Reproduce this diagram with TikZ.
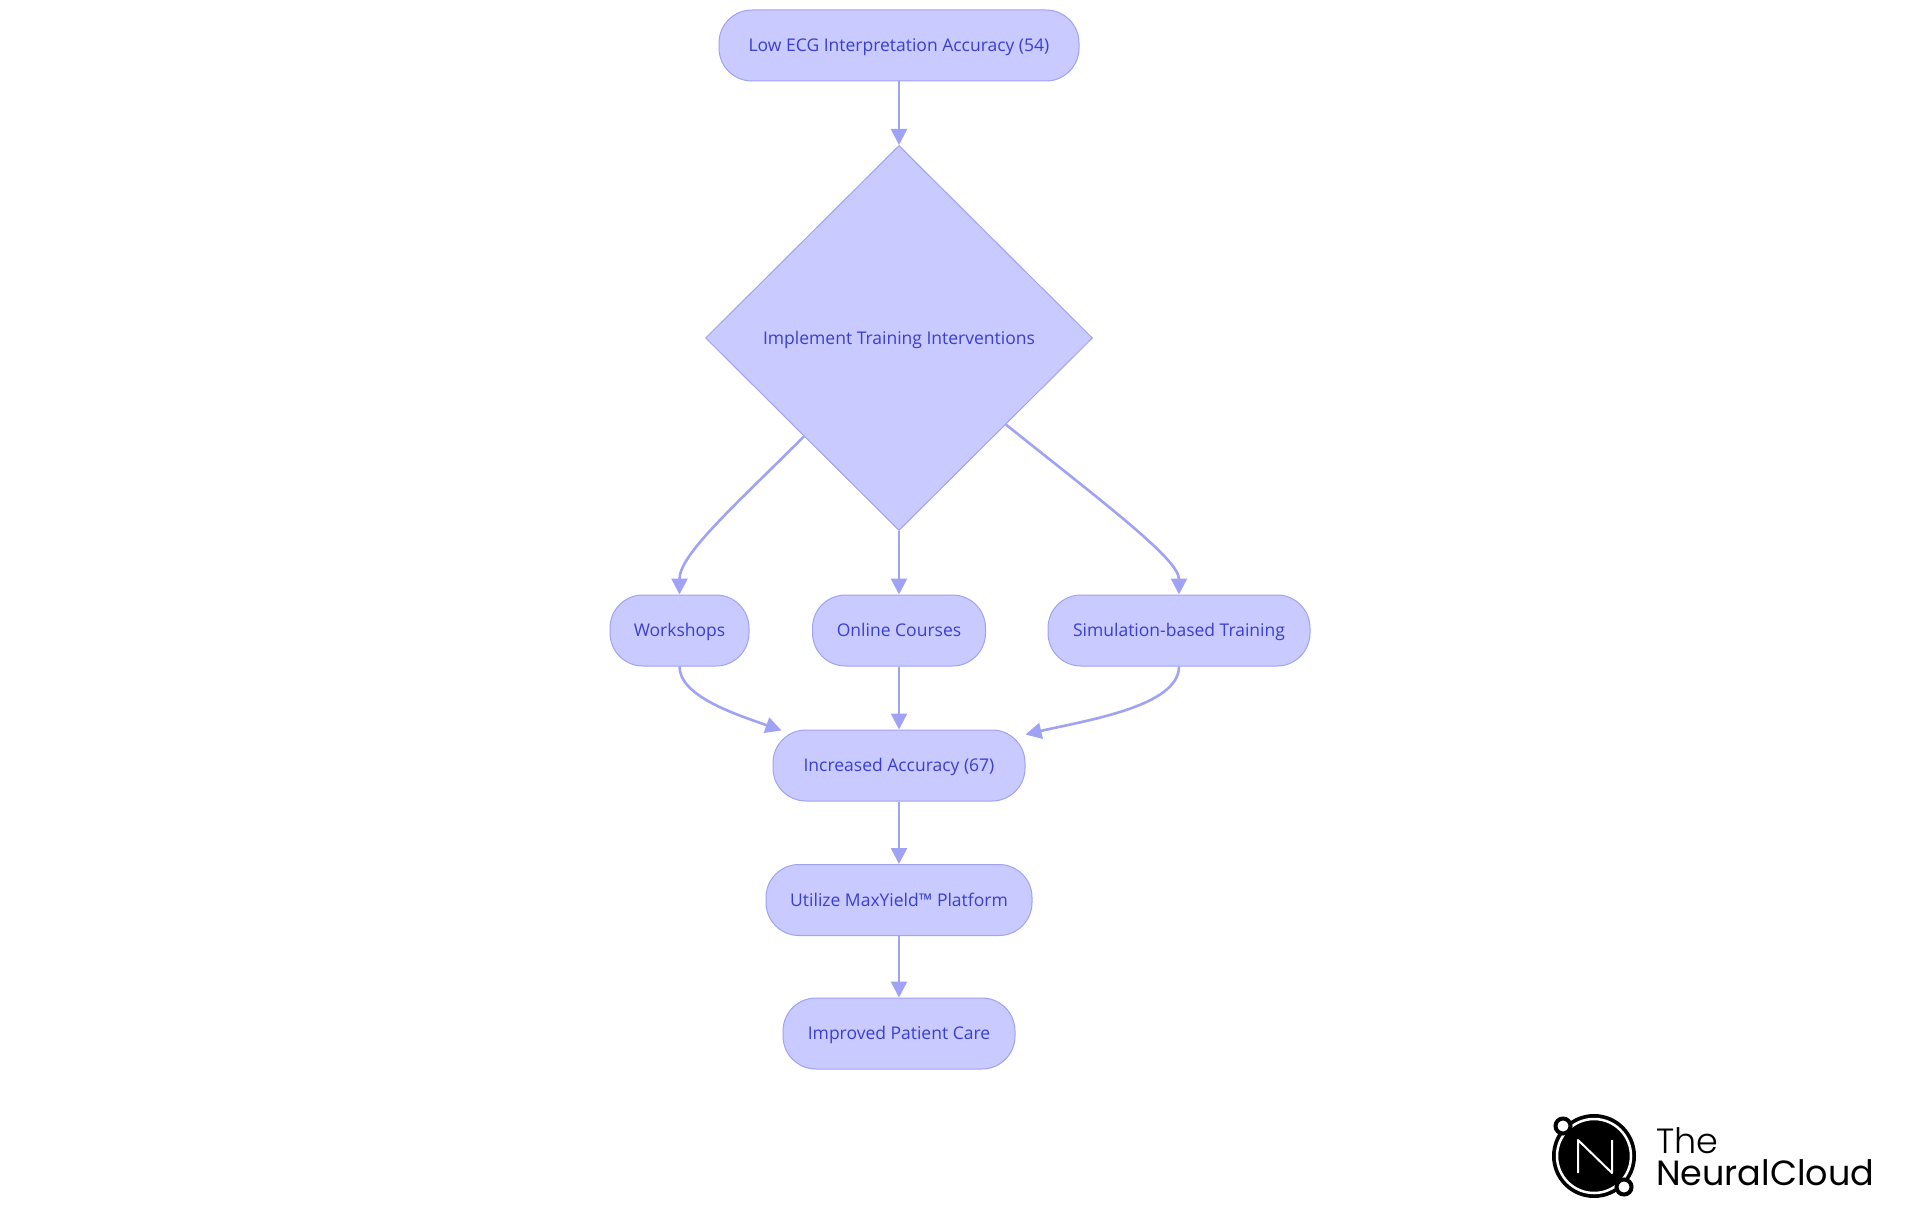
\documentclass[tikz,border=0pt]{standalone}
\usepackage{fontspec}
\usepackage{xcolor}
\usetikzlibrary{shapes.geometric,arrows.meta,calc}
\setmainfont{Open Sans}
\newfontfamily\logofont{Poppins}
\newfontfamily\logolight{Poppins Light}
\definecolor{nodefill}{HTML}{C9CAFF}
\definecolor{nodeline}{HTML}{A0A2F5}
\definecolor{nodetext}{HTML}{3A3FCF}
\tikzset{
  pill/.style={draw=nodeline, fill=nodefill, text=nodetext, line width=1pt, rounded corners=33pt,
    minimum height=71pt, inner sep=0pt, text height=16pt, text depth=3.6pt, font=\fontsize{17.5}{21}\selectfont},
  choice/.style={diamond, draw=nodeline, fill=nodefill, text=nodetext, line width=1pt,
    minimum width=387pt, minimum height=385pt, inner sep=0pt, text height=16pt, text depth=3.6pt, font=\fontsize{17.5}{21}\selectfont},
  flow/.style={draw=nodeline, line width=2.6pt, -{Triangle[length=16pt,width=16pt]}}
}
\begin{document}
\begin{tikzpicture}[x=1pt, y=-1pt]
  \useasboundingbox (0,0) rectangle (1920,1215);
  % flow chart
  \node[pill, minimum width=360pt] (low) at (899,45.5) {Low ECG Interpretation Accuracy (54)};
  \node[choice] (impl) at (899,338) {Implement Training Interventions};
  \node[pill, minimum width=139pt] (shop) at (679.5,630.5) {Workshops};
  \node[pill, minimum width=173pt] (online) at (899,630.5) {Online Courses};
  \node[pill, minimum width=262pt] (sim) at (1179,630.5) {Simulation-based Training};
  \node[pill, minimum width=252pt] (inc) at (899,765.5) {Increased Accuracy (67)};
  \node[pill, minimum width=266pt] (maxy) at (899,900) {Utilize MaxYield™ Platform};
  \node[pill, minimum width=232pt] (care) at (899,1033.5) {Improved Patient Care};

  \draw[flow] (low) -- (impl);
  \draw[flow] (impl.-134) .. controls +(-70,70) and +(0,-40) .. (shop.north);
  \draw[flow] (impl) -- (online);
  \draw[flow] (impl.-39) .. controls +(100,80) and +(0,-35) .. (sim.north);
  \draw[flow] (shop.south) .. controls +(0,30) and +(-45,-16) .. ($(inc.north west)+(9,1)$);
  \draw[flow] (online) -- (inc);
  \draw[flow] (sim.south) .. controls +(0,40) and +(60,-14) .. ($(inc.north east)+(0,5)$);
  \draw[flow] (inc) -- (maxy);
  \draw[flow] (maxy) -- (care);

  % logo
  \fill[black] (1594,1156) circle (42);
  \draw[white, line width=2.5pt] (1594,1156) circle (37);
  \draw[white, line width=2pt, line join=round] (1578,1173) -- (1578,1140) -- (1612,1173) -- (1612,1140);
  \draw[black, fill=white, line width=4pt] (1563,1126) circle (7.5);
  \draw[black, fill=white, line width=4pt] (1624,1187) circle (7.5);
  \node[anchor=base west, inner sep=0pt, font=\logolight\fontsize{35}{40}\selectfont] (logoa) at (1656,1153) {The};
  \node[anchor=base west, inner sep=0pt, font=\logofont\fontsize{35}{40}\selectfont] (logob) at (1656,1185) {NeuralCloud};
\end{tikzpicture}
\end{document}
